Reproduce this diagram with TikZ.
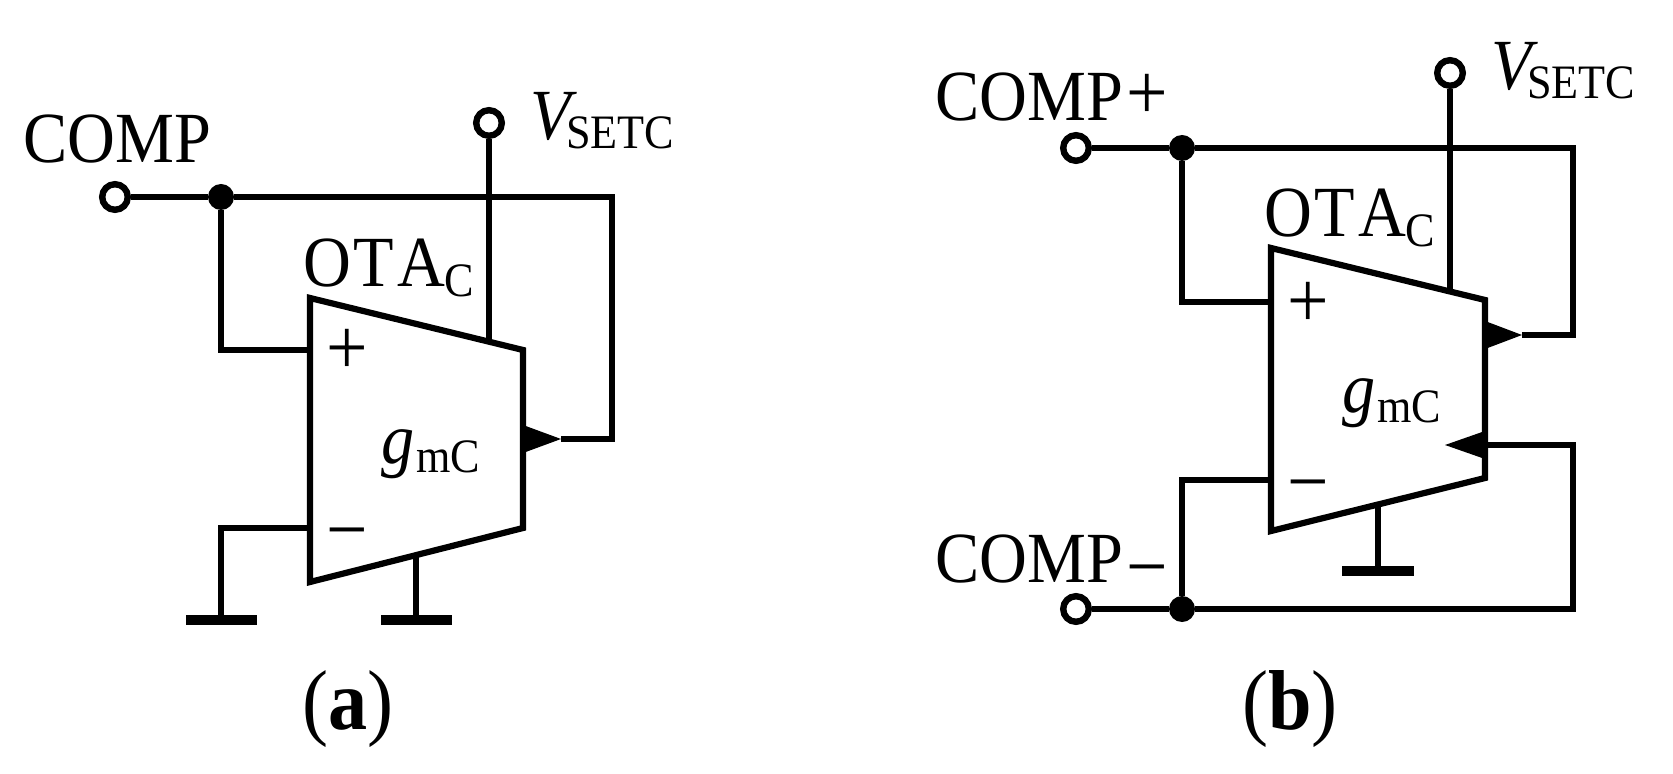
\documentclass[tikz,border=0pt]{standalone}
\usepackage{fontspec}
\setmainfont{Liberation Serif}[FakeStretch=0.92]
\newcommand{\bigtxt}{\fontsize{36}{40}\selectfont}
\newcommand{\pmtxt}{\fontsize{40}{44}\selectfont}
\newcommand{\captxtfont}{\fontsize{42.5}{46}\selectfont}
\newcommand{\subs}[2]{\raisebox{-#1}{\fontsize{24}{26}\selectfont #2}}
\tikzset{
  wire/.style={line width=2.7pt,line join=miter},
  ota/.style={line width=3.1pt,line join=miter},
  term/.style={circle,draw,fill=white,line width=3.2pt,inner sep=0pt,minimum size=12.8pt},
  dot/.style={circle,fill=black,inner sep=0pt,minimum size=13pt},
  gnd/.style={line width=5pt},
  tip/.style={fill=black},
  lab/.style={inner sep=0pt,anchor=base west,font=\bigtxt},
  sgn/.style={inner sep=0pt,anchor=base,font=\pmtxt},
  captxt/.style={inner sep=0pt,anchor=base,font=\captxtfont}
}
\begin{document}
\begin{tikzpicture}[x=0.5pt,y=-0.5pt]
\useasboundingbox (0,0) rectangle (1673,774);
% ---------- (a) ----------
\coordinate (a1) at (310,298);
\coordinate (a2) at (523,350);
\coordinate (a3) at (523,528);
\coordinate (a4) at (310,582);
\coordinate (ap) at (310,350);
\coordinate (am) at (310,528);
\coordinate (ac1) at (612,197);
\coordinate (ac2) at (612,439);
\coordinate (at) at (561,439);
\coordinate (ab1) at (523,425);
\coordinate (ab2) at (523,453);
\coordinate (ag1) at (221,528);
\coordinate (ag2) at (221,620);
\coordinate (agl) at (186,620);
\coordinate (agr) at (257,620);
\coordinate (ah1) at (416,556);
\coordinate (ah2) at (416,620);
\coordinate (ahl) at (381,620);
\coordinate (ahr) at (452,620);
\coordinate (av) at (489,342);
\coordinate (apc) at (221,350);
\node[term] (at1) at (115,197) {};
\node[dot] (aj) at (221,197) {};
\node[term] (atv) at (489,123) {};
\draw[wire] (at1) -- (aj);
\draw[wire] (aj) -- (ac1) -- (ac2) -- (at);
\draw[wire] (aj) -- (apc) -- (ap);
\draw[wire] (am) -- (ag1) -- (ag2);
\draw[gnd] (agl) -- (agr);
\draw[wire] (ah1) -- (ah2);
\draw[gnd] (ahl) -- (ahr);
\draw[wire] (atv) -- (av);
\draw[ota] (a1) -- (a2) -- (a3) -- (a4) -- cycle;
\fill[tip] (ab1) -- (at) -- (ab2) -- cycle;
\node[lab] (acomp) at (23,163) {COMP};
\node[lab] (avs) at (530,140) {\textit{V}\kern-5.5pt\subs{4.5pt}{SETC}};
\node[lab] (aota) at (303,287) {O\kern1pt T\kern2pt A\kern-0.5pt\subs{5pt}{C}};
\node[lab] (agm) at (381,463) {\textit{g}\kern1pt\subs{5pt}{mC}};
\node[sgn] (apl) at (347,375) {+};
\node[sgn] (ami) at (347,556) {−};
\node[captxt] (acap) at (348,729) {(\textbf{a})};
% ---------- (b) ----------
\coordinate (b1) at (1271,248);
\coordinate (b2) at (1485,300);
\coordinate (b3) at (1485,478);
\coordinate (b4) at (1271,531);
\coordinate (bp) at (1271,302);
\coordinate (bm) at (1271,480);
\coordinate (bc1) at (1573,148);
\coordinate (bc2) at (1573,335);
\coordinate (bt) at (1522,335);
\coordinate (bb1) at (1485,321);
\coordinate (bb2) at (1485,349);
\coordinate (bc3) at (1573,609);
\coordinate (bc4) at (1573,445);
\coordinate (bo) at (1485,445);
\coordinate (bt2) at (1445,445);
\coordinate (bb3) at (1485,431);
\coordinate (bb4) at (1485,459);
\coordinate (bpc) at (1182,302);
\coordinate (bmc) at (1182,480);
\coordinate (bh1) at (1378,505);
\coordinate (bh2) at (1378,571);
\coordinate (bhl) at (1342,571);
\coordinate (bhr) at (1414,571);
\coordinate (bv) at (1450,292);
\node[term] (bt1) at (1076,148) {};
\node[dot] (bj1) at (1182,148) {};
\node[term] (bt3) at (1076,609) {};
\node[dot] (bj2) at (1182,609) {};
\node[term] (btv) at (1450,73) {};
\draw[wire] (bt1) -- (bj1);
\draw[wire] (bj1) -- (bc1) -- (bc2) -- (bt);
\draw[wire] (bj1) -- (bpc) -- (bp);
\draw[wire] (bt3) -- (bj2);
\draw[wire] (bj2) -- (bc3) -- (bc4) -- (bo);
\draw[wire] (bj2) -- (bmc) -- (bm);
\draw[wire] (bh1) -- (bh2);
\draw[gnd] (bhl) -- (bhr);
\draw[wire] (btv) -- (bv);
\draw[ota] (b1) -- (b2) -- (b3) -- (b4) -- cycle;
\fill[tip] (bb1) -- (bt) -- (bb2) -- cycle;
\fill[tip] (bb3) -- (bt2) -- (bb4) -- cycle;
\node[lab] (bcomp) at (935,121) {COMP\kern1.5pt\raisebox{0.5pt}{\pmtxt +}};
\node[lab] (bcomm) at (935,582) {COMP\kern1.5pt\raisebox{-5.5pt}{\pmtxt −}};
\node[lab] (bvs) at (1491,90) {\textit{V}\kern-5.5pt\subs{4.5pt}{SETC}};
\node[lab] (bota) at (1264,237) {O\kern1pt T\kern2pt A\kern-0.5pt\subs{5pt}{C}};
\node[lab] (bgm) at (1342,413) {\textit{g}\kern1pt\subs{5pt}{mC}};
\node[sgn] (bpl) at (1308,328) {+};
\node[sgn] (bmi) at (1308,508) {−};
\node[captxt] (bcap) at (1290,729) {(\textbf{b})};
\end{tikzpicture}
\end{document}
